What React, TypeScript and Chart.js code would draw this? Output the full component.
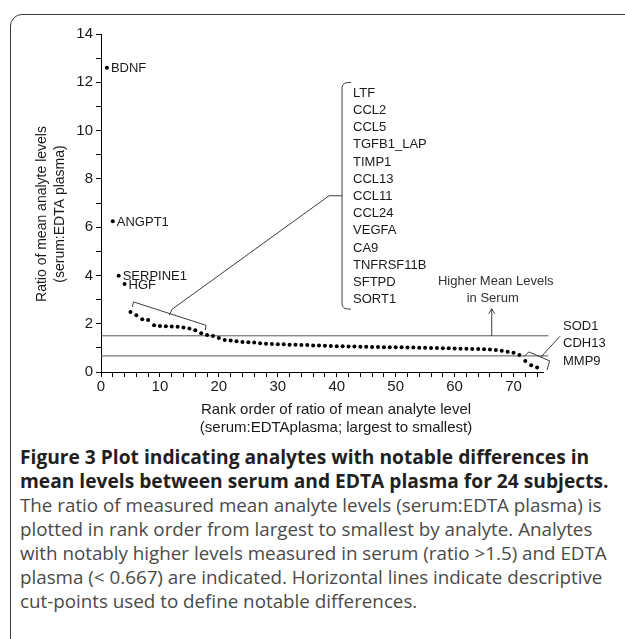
import React, { useEffect, useRef } from "react";
import { Chart, registerables } from "chart.js";

Chart.register(...registerables);

// ---- data ----
const ranks = [
  1, 2, 3, 4, 5, 6, 7, 8, 9, 10, 11, 12, 13, 14, 15, 16, 17, 18, 19, 20,
  21, 22, 23, 24, 25, 26, 27, 28, 29, 30, 31, 32, 33, 34, 35, 36, 37, 38, 39, 40,
  41, 42, 43, 44, 45, 46, 47, 48, 49, 50, 51, 52, 53, 54, 55, 56, 57, 58, 59, 60,
  61, 62, 63, 64, 65, 66, 67, 68, 69, 70, 71, 72, 73, 74,
];
const ratios = [
  12.6, 6.24, 3.99, 3.64, 2.49, 2.35, 2.19, 2.15, 1.94, 1.91,
  1.9, 1.88, 1.87, 1.84, 1.8, 1.73, 1.6, 1.53, 1.49, 1.41,
  1.33, 1.3, 1.27, 1.24, 1.23, 1.22, 1.19, 1.17, 1.16, 1.15,
  1.15, 1.13, 1.13, 1.12, 1.12, 1.1, 1.1, 1.09, 1.08, 1.07,
  1.07, 1.06, 1.06, 1.05, 1.05, 1.04, 1.04, 1.03, 1.03, 1.02,
  1.02, 1.01, 1.01, 1.0, 1.0, 0.99, 0.99, 0.98, 0.98, 0.97,
  0.96, 0.96, 0.95, 0.95, 0.94, 0.93, 0.91, 0.88, 0.84, 0.8,
  0.7, 0.46, 0.28, 0.19,
];
const topAnalytes = ["BDNF", "ANGPT1", "SERPINE1", "HGF"];
const serumHighAnalytes = [
  "LTF", "CCL2", "CCL5", "TGFB1_LAP", "TIMP1", "CCL13", "CCL11",
  "CCL24", "VEGFA", "CA9", "TNFRSF11B", "SFTPD", "SORT1",
];
const plasmaHighAnalytes = ["SOD1", "CDH13", "MMP9"];
const cutPoints = [1.5, 0.667];
const cutLineEnd = 75.9;
const xMax = 75;
const yMax = 14;
const xTitle = ["Rank order of ratio of mean analyte level", "(serum:EDTAplasma; largest to smallest)"];
const yTitle = ["Ratio of mean analyte levels", "(serum:EDTA plasma)"];
const serumNote = ["Higher Mean Levels", "in Serum"];
const serumNoteRank = 66.3;
const listBracketRank = 40.9;
const listBracketTop = 12.0;
const listBracketBottom = 2.6;

const captionBold = [
  "Figure 3 Plot indicating analytes with notable differences in",
  "mean levels between serum and EDTA plasma for 24 subjects.",
];
const captionText = [
  "The ratio of measured mean analyte levels (serum:EDTA plasma) is",
  "plotted in rank order from largest to smallest by analyte. Analytes",
  "with notably higher levels measured in serum (ratio >1.5) and EDTA",
  "plasma (< 0.667) are indicated. Horizontal lines indicate descriptive",
  "cut-points used to define notable differences.",
];

const FONT = "'Liberation Sans', Arial, sans-serif";
const INK = "#1a1a1a";
const LINE = "#3c3c3c";

const annotPlugin = {
  id: "annot",
  afterDatasetsDraw(chart: any) {
    const ctx = chart.ctx as CanvasRenderingContext2D;
    const xs = chart.scales.x;
    const ys = chart.scales.y;
    const px = (v: number) => xs.getPixelForValue(v);
    const py = (v: number) => ys.getPixelForValue(v);
    ctx.save();
    ctx.fillStyle = INK;
    ctx.strokeStyle = LINE;
    ctx.lineWidth = 1;
    ctx.font = `13px ${FONT}`;
    ctx.textBaseline = "middle";
    ctx.textAlign = "left";

    // labels of top analytes
    topAnalytes.forEach((name, i) => {
      ctx.fillText(name, px(ranks[i]) + 4, py(ratios[i]) + 1);
    });

    // bracket over serum-high analytes
    const s0 = topAnalytes.length;
    const s1 = s0 + serumHighAnalytes.length - 1;
    const L = { x: px(ranks[s0]) + 3, y: py(ratios[s0]) - 10 };
    const R = { x: px(ranks[s1]) + 5, y: py(ratios[s1]) - 8 };
    ctx.beginPath();
    ctx.moveTo(L.x - 1, L.y + 5);
    ctx.lineTo(L.x, L.y);
    ctx.lineTo(R.x, R.y);
    ctx.lineTo(R.x - 1, R.y + 5);
    ctx.stroke();
    const M = { x: L.x + 0.52 * (R.x - L.x), y: L.y + 0.52 * (R.y - L.y) };
    const bx = px(listBracketRank);
    const bTop = py(listBracketTop);
    const bBot = py(listBracketBottom);
    const bMid = (bTop + bBot) / 2;
    ctx.beginPath();
    ctx.moveTo(M.x - 2, M.y + 1);
    ctx.lineTo(M.x + 1, M.y - 5);
    ctx.lineTo(bx - 13, bMid);
    ctx.lineTo(bx, bMid);
    ctx.stroke();
    ctx.beginPath();
    ctx.moveTo(bx + 9, bTop);
    ctx.quadraticCurveTo(bx, bTop, bx, bTop + 5);
    ctx.lineTo(bx, bBot - 5);
    ctx.quadraticCurveTo(bx, bBot, bx + 9, bBot);
    ctx.stroke();
    serumHighAnalytes.forEach((name, i) => {
      ctx.fillText(name, bx + 11, bTop + 11 + i * 17.2);
    });

    // bracket over plasma-high analytes
    const p0 = ranks.length - plasmaHighAnalytes.length;
    const p1 = ranks.length - 1;
    const A = { x: px(ranks[p0]), y: py(ratios[p0]) };
    const B = { x: px(ranks[p1]), y: py(ratios[p1]) };
    const tip = { x: A.x + 3.5, y: A.y - 9 };
    const rt = { x: B.x + 12.5, y: B.y - 6.5 };
    ctx.beginPath();
    ctx.moveTo(A.x - 1, A.y - 4.5);
    ctx.lineTo(tip.x, tip.y);
    ctx.lineTo(rt.x, rt.y);
    ctx.lineTo(B.x + 10, B.y + 2.5);
    ctx.stroke();
    const N = { x: tip.x + 0.6 * (rt.x - tip.x), y: tip.y + 0.6 * (rt.y - tip.y) };
    const labX = px(xMax) + 20;
    ctx.beginPath();
    ctx.moveTo(N.x, N.y);
    ctx.lineTo(N.x + 3, N.y - 4);
    ctx.lineTo(labX - 3, N.y - 21);
    ctx.stroke();
    plasmaHighAnalytes.forEach((name, i) => {
      ctx.fillText(name, labX, N.y - 31 + i * 17.5);
    });

    // arrow + note
    const ax = px(serumNoteRank);
    const ay = py(cutPoints[0]);
    ctx.beginPath();
    ctx.moveTo(ax, ay);
    ctx.lineTo(ax, ay - 27);
    ctx.moveTo(ax - 3, ay - 22);
    ctx.lineTo(ax, ay - 27);
    ctx.lineTo(ax + 3, ay - 22);
    ctx.stroke();
    ctx.textAlign = "center";
    ctx.fillStyle = "#333";
    ctx.fillText(serumNote[0], ax + 4, ay - 54);
    ctx.fillText(serumNote[1], ax + 1, ay - 37);

    // axis titles
    const area = chart.chartArea;
    ctx.fillStyle = INK;
    ctx.font = `15px ${FONT}`;
    const xc = (area.left + area.right) / 2 + 14;
    ctx.fillText(xTitle[0], xc, area.bottom + 38);
    ctx.fillText(xTitle[1], xc, area.bottom + 56);
    ctx.font = `14px ${FONT}`;
    ctx.save();
    ctx.translate(42, (area.top + area.bottom) / 2 + 11);
    ctx.rotate(-Math.PI / 2);
    ctx.fillText(yTitle[0], 0, 0);
    ctx.fillText(yTitle[1], 0, 18);
    ctx.restore();

    ctx.restore();
  },
};

function ChartBox() {
  const ref = useRef<HTMLCanvasElement>(null);
  useEffect(() => {
    if (!ref.current) return;
    const chart = new Chart(ref.current, {
      type: "scatter",
      data: {
        datasets: [
          {
            label: "ratio",
            data: ranks.map((r, i) => ({ x: r, y: ratios[i] })),
            pointRadius: 2,
            pointBackgroundColor: "#000",
            pointBorderWidth: 0,
            showLine: false,
          } as any,
          ...cutPoints.map((c) => ({
            label: "cut " + c,
            type: "line" as const,
            data: [
              { x: 0, y: c },
              { x: cutLineEnd, y: c },
            ],
            borderColor: "#555",
            borderWidth: 1,
            pointRadius: 0,
            clip: false as any,
          })),
        ],
      },
      options: {
        responsive: false,
        animation: false,
        events: [],
        layout: { padding: { left: 0, top: 34, right: 82, bottom: 0 } },
        plugins: { legend: { display: false }, tooltip: { enabled: false } },
        scales: {
          x: {
            type: "linear",
            min: 0,
            max: xMax,
            afterFit: (s: any) => {
              s.height = 68;
            },
            ticks: {
              stepSize: 2,
              includeBounds: false,
              autoSkip: false,
              maxRotation: 0,
              padding: 1,
              color: INK,
              font: { family: FONT, size: 15 },
              callback: (v: any) => (Number(v) % 10 === 0 ? String(v) : ""),
            },
            grid: { drawOnChartArea: false, drawTicks: true, tickLength: 5, color: "#000" },
            border: { display: true, color: "#000", width: 1 },
          },
          y: {
            type: "linear",
            min: 0,
            max: yMax,
            afterFit: (s: any) => {
              s.width = 101;
            },
            ticks: {
              stepSize: 1,
              autoSkip: false,
              padding: 3,
              color: INK,
              font: { family: FONT, size: 15 },
              callback: (v: any) => (Number(v) % 2 === 0 ? String(v) : ""),
            },
            grid: { drawOnChartArea: false, drawTicks: true, tickLength: 5, color: "#000" },
            border: { display: true, color: "#000", width: 1 },
          },
        },
      },
      plugins: [annotPlugin],
    });
    return () => chart.destroy();
  }, []);
  return <canvas ref={ref} width={625} height={440} style={{ position: "absolute", left: 0, top: 0 }} />;
}

export default function App() {
  return (
    <div
      style={{
        position: "fixed",
        left: 0,
        top: 0,
        width: 625,
        height: 639,
        overflow: "hidden",
        background: "#fff",
      }}
    >
      <div
        style={{
          position: "absolute",
          left: 10,
          top: 14,
          width: 680,
          height: 700,
          border: "1.5px solid #3a3a3a",
          borderRadius: 12,
          boxSizing: "border-box",
        }}
      />
      <ChartBox />
      <div
        style={{
          position: "absolute",
          left: 20,
          top: 445,
          fontFamily: "'Open Sans', sans-serif",
          lineHeight: "24px",
          whiteSpace: "nowrap",
        }}
      >
        {captionBold.map((t, i) => (
          <div key={"b" + i} style={{ fontWeight: 700, fontSize: 19.2, color: "#231f20" }}>
            {t}
          </div>
        ))}
        {captionText.map((t, i) => (
          <div key={"t" + i} style={{ fontSize: 18.8, color: "#4a4a4a" }}>
            {t}
          </div>
        ))}
      </div>
    </div>
  );
}
